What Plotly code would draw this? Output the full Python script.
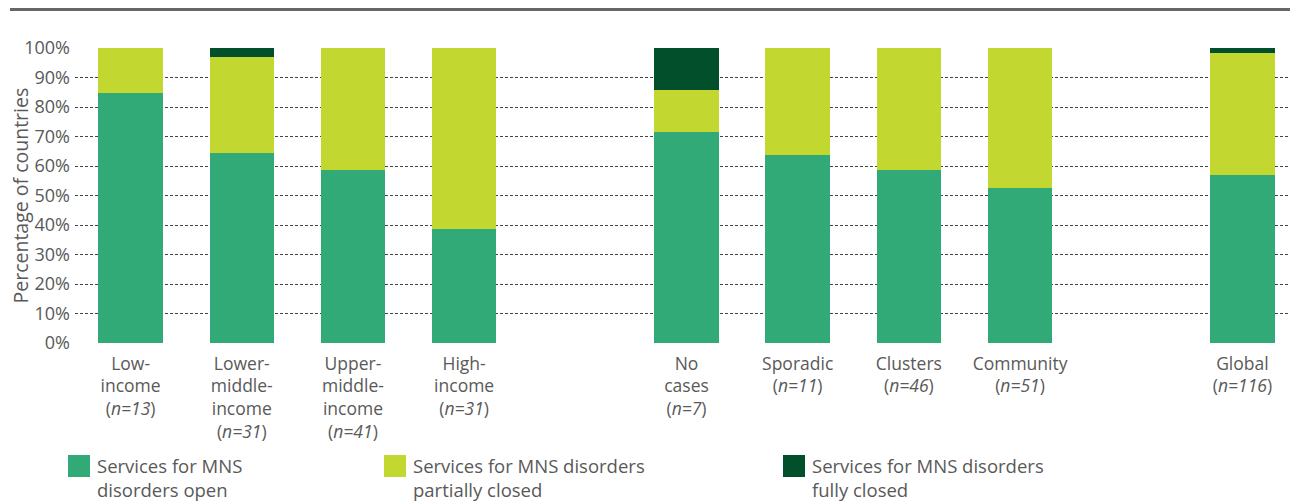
import plotly.graph_objects as go

# ---- data ----
income_groups = ["Low-<br>income", "Lower-<br>middle-<br>income", "Upper-<br>middle-<br>income", "High-<br>income"]
income_n = [13, 31, 41, 31]
transmission_groups = ["No<br>cases", "Sporadic", "Clusters", "Community"]
transmission_n = [7, 11, 46, 51]
global_group = ["Global"]
global_n = [116]

series_names = [
    "Services for MNS<br>disorders open",
    "Services for MNS disorders<br>partially closed",
    "Services for MNS disorders<br>fully closed",
]
open_pct = [84.6, 64.5, 58.5, 38.7, 71.4, 63.6, 58.7, 52.5, 56.9]
partial_pct = [15.4, 32.3, 41.5, 61.3, 14.3, 36.4, 41.3, 47.5, 41.4]
closed_pct = [0.0, 3.2, 0.0, 0.0, 14.3, 0.0, 0.0, 0.0, 1.7]
y_ticks = [0, 10, 20, 30, 40, 50, 60, 70, 80, 90, 100]
y_tick_labels = [f"{v}%" for v in y_ticks]

# ---- layout helpers ----
colors = ["#31aa78", "#c2d830", "#01502b"]
OFF = 8  # page body margin
W, H = 1298 - OFF, 502 - OFF
L, T = 75 - OFF, 48 - OFF
B = H - (343 - OFF)
R = 0
pw, ph = W - L - R, H - T - B

def px_x(x):
    return (x - OFF - L) / pw

def px_y(y):
    return (H - B - (y - OFF)) / ph

groups = [(income_groups, income_n), (transmission_groups, transmission_n), (global_group, global_n)]
positions, labels = [], []
pos = 0
for gi, (cats, ns) in enumerate(groups):
    for c, n in zip(cats, ns):
        positions.append(pos)
        labels.append(f"{c}<br>(<i>n={n}</i>)")
        pos += 1
    pos += 1  # gap between groups

fig = go.Figure()
for name, vals, col in zip(series_names, [open_pct, partial_pct, closed_pct], colors):
    fig.add_trace(go.Bar(x=positions, y=vals, name=name.replace("<br>", " "),
                         marker=dict(color=col, line=dict(width=0)), width=0.58,
                         showlegend=False))

font_fam = "Open Sans, Noto Sans, sans-serif"
txt_col = "#595959"

fig.update_layout(
    width=W, height=H, barmode="stack",
    margin=dict(l=L, r=R, t=T, b=B),
    paper_bgcolor="white", plot_bgcolor="white",
    font=dict(family=font_fam, size=17, color=txt_col),
    xaxis=dict(range=[-0.5, pos - 1.5], tickvals=positions, ticktext=labels, tickangle=0,
               showgrid=False, zeroline=False, showline=False, ticks="", ticklabelstandoff=8,
               tickfont=dict(size=17.5, color=txt_col)),
    yaxis=dict(range=[0, 100], tickvals=y_ticks, ticktext=y_tick_labels, showgrid=True,
               gridcolor="#444444", griddash="3px,2px", gridwidth=1.2,
               zeroline=False, showline=False, ticks="", ticklabelstandoff=4,
               tickfont=dict(size=18, color=txt_col)),
)

# y title
fig.add_annotation(text="Percentage of countries", textangle=-90, xref="paper", yref="paper",
                   x=px_x(20), y=0.5, xanchor="center", yanchor="middle", showarrow=False,
                   font=dict(size=19.5, color=txt_col))

# top rule
fig.add_shape(type="line", xref="paper", yref="paper", x0=px_x(10), x1=1, y0=px_y(9.5), y1=px_y(9.5),
              line=dict(color="#666666", width=3))

# legend (manual, large swatches)
leg_x = [68, 384, 783]
for name, col, lx in zip(series_names, colors, leg_x):
    fig.add_shape(type="rect", xref="paper", yref="paper", x0=px_x(lx), x1=px_x(lx + 22),
                  y0=px_y(477), y1=px_y(455), fillcolor=col, line=dict(width=0))
    fig.add_annotation(text=name, xref="paper", yref="paper", x=px_x(lx + 27), y=px_y(451),
                       xanchor="left", yanchor="top", align="left", showarrow=False,
                       font=dict(size=18.5, color=txt_col))

fig.write_html("out.html")
